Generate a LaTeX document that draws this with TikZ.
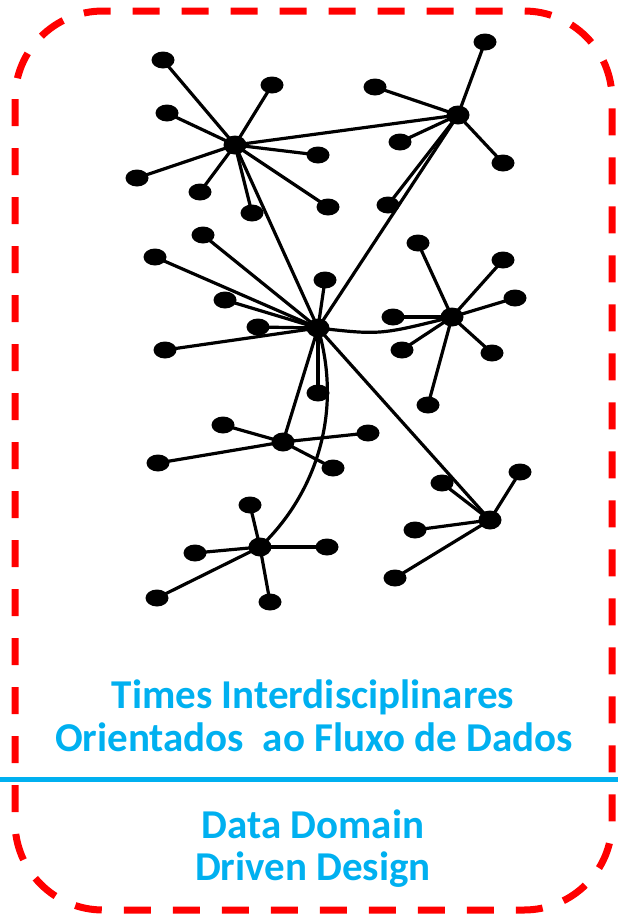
\documentclass[tikz,border=0pt]{standalone}
\usepackage{fontspec}
\setmainfont{Carlito}
\usetikzlibrary{shapes.geometric}
\definecolor{frameRed}{RGB}{255,0,0}
\definecolor{lightBlue}{RGB}{0,176,240}
\tikzset{
  leaf/.style={ellipse,fill=black,minimum width=23pt,minimum height=17pt,inner sep=0pt},
  hub/.style={ellipse,fill=black,minimum width=23pt,minimum height=19pt,inner sep=0pt},
  link/.style={line width=3.2pt,black},
  caption/.style={font=\fontsize{41}{48}\selectfont\bfseries,text=lightBlue,anchor=base,inner sep=0pt}
}
\begin{document}
\begin{tikzpicture}[x=1pt,y=-1pt]
\useasboundingbox (0,0) rectangle (618,921);
% frame
\draw[frameRed,line width=7pt,dash pattern=on 27pt off 22pt,rounded corners=88pt] (15,11) rectangle (612,910);
\draw[lightBlue,line width=5pt] (0,779) -- (618,779);
% hubs
\node[hub] (A) at (235,145) {};
\node[hub] (C) at (458,115) {};
\node[hub] (B) at (318,328) {};
\node[hub] (D) at (452,317) {};
\node[hub] (E) at (283,442) {};
\node[hub] (F) at (260,547) {};
\node[hub] (G) at (490,520) {};
% leaves
\foreach \n/\x/\y in {a1/163/60,a2/272/85,a3/167/113,a4/318/155,a5/137/178,a6/200/192,a7/252/213,a8/328/207}
  {\node[leaf] (\n) at (\x,\y) {};}
\foreach \n/\x/\y in {c1/485/42,c2/375/87,c3/400/142,c4/503/163,c5/388/205}
  {\node[leaf] (\n) at (\x,\y) {};}
\foreach \n/\x/\y in {b1/203/235,b2/155/257,b3/225/300,b4/258/327,b5/165/350,b6/325/280,b7/318/393}
  {\node[leaf] (\n) at (\x,\y) {};}
\foreach \n/\x/\y in {d1/418/243,d2/503/260,d3/515/298,d4/393/317,d5/402/350,d6/492/353,d7/428/405}
  {\node[leaf] (\n) at (\x,\y) {};}
\foreach \n/\x/\y in {e1/223/425,e2/158/463,e3/368/433,e4/333/468}
  {\node[leaf] (\n) at (\x,\y) {};}
\foreach \n/\x/\y in {f1/250/505,f2/195/553,f3/327/547,f4/157/598,f5/270/602}
  {\node[leaf] (\n) at (\x,\y) {};}
\foreach \n/\x/\y in {g1/520/472,g2/442/483,g3/415/530,g4/395/578}
  {\node[leaf] (\n) at (\x,\y) {};}
% spokes
\foreach \n in {a1,a2,a3,a4,a5,a6,a7,a8} {\draw[link] (A.center) -- (\n.center);}
\foreach \n in {c1,c2,c3,c4,c5} {\draw[link] (C.center) -- (\n.center);}
\foreach \n in {b1,b2,b3,b4,b5,b6,b7} {\draw[link] (B.center) -- (\n.center);}
\foreach \n in {d1,d2,d3,d4,d5,d6,d7} {\draw[link] (D.center) -- (\n.center);}
\foreach \n in {e1,e2,e3,e4} {\draw[link] (E.center) -- (\n.center);}
\foreach \n in {f1,f2,f3,f4,f5} {\draw[link] (F.center) -- (\n.center);}
\foreach \n in {g1,g2,g3,g4} {\draw[link] (G.center) -- (\n.center);}
% hub links
\draw[link] (A.center) -- (C.center);
\draw[link] (A.center) -- (B.center);
\draw[link] (C.center) -- (B.center);
\draw[link] (B.center) .. controls (380,335) .. (D.center);
\draw[link] (B.center) -- (E.center);
\draw[link] (B.center) .. controls (345,420) and (310,500) .. (F.center);
\draw[link] (B.center) -- (G.center);
% captions
\node[caption] (t1) at (313,708) {Times Interdisciplinares};
\node[caption] (t2) at (314,751) {Orientados~ ao Fluxo de Dados};
\node[caption] (t3) at (313,838) {Data Domain};
\node[caption] (t4) at (313,880) {Driven Design};
\end{tikzpicture}
\end{document}
